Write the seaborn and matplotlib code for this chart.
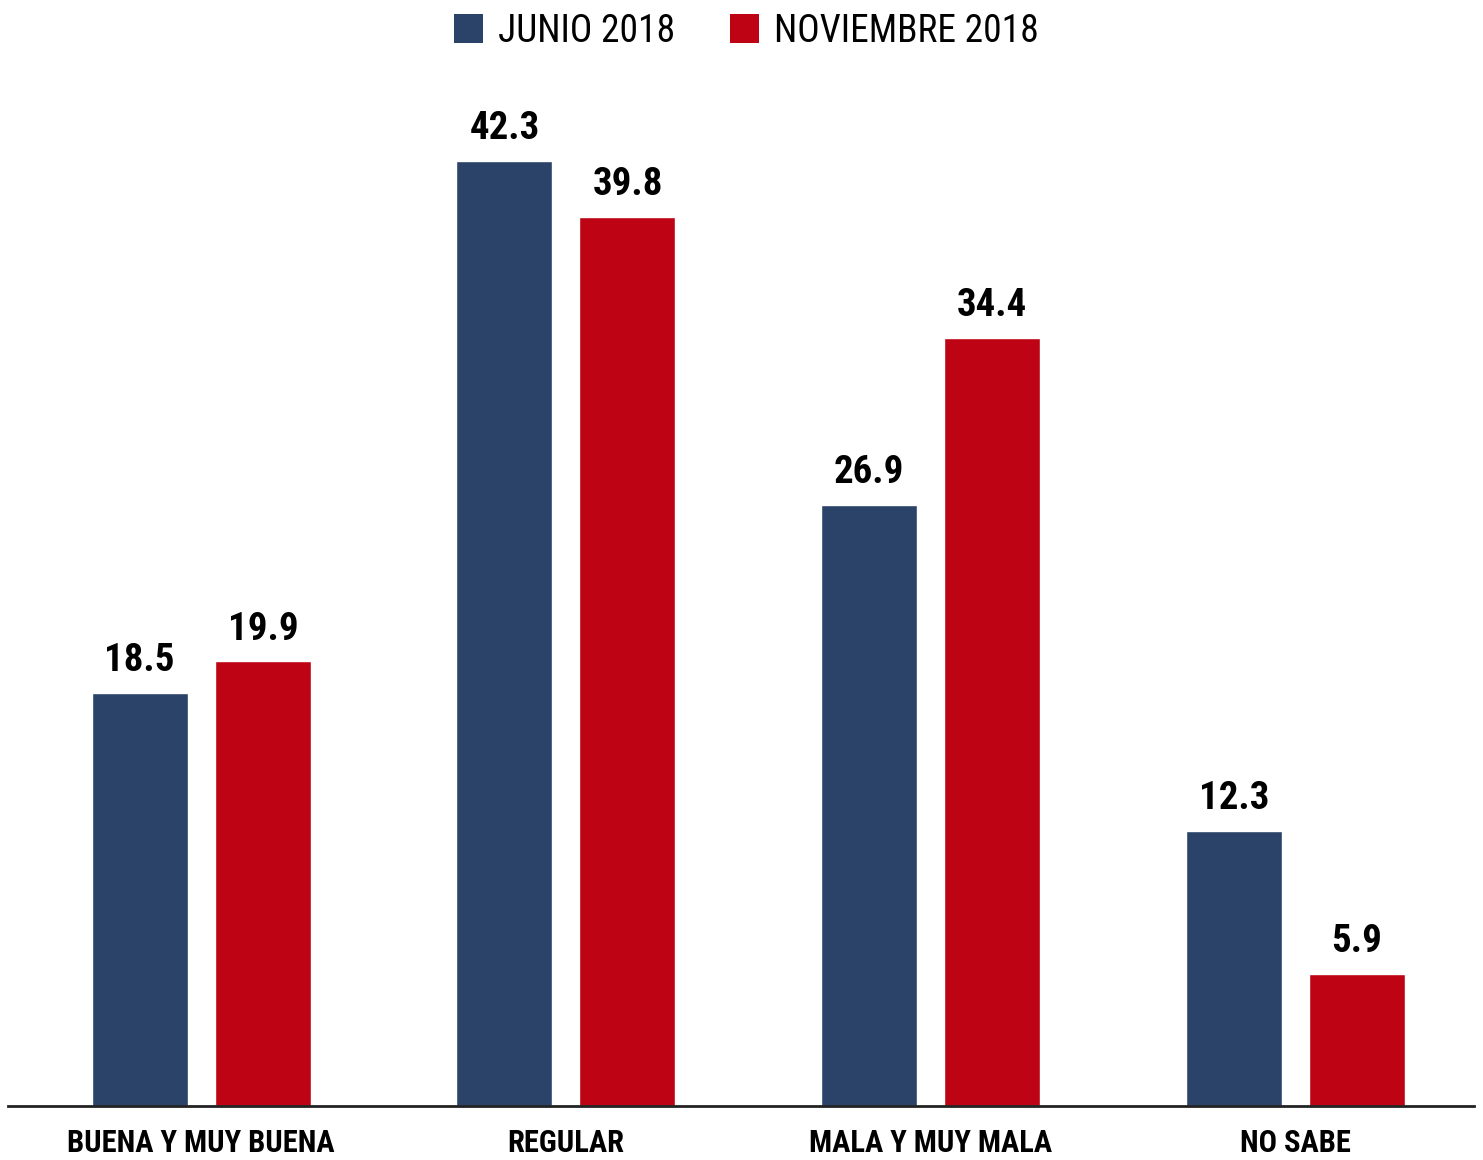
import matplotlib
matplotlib.use("Agg")
import matplotlib.pyplot as plt
from matplotlib import font_manager
from matplotlib.patches import Patch
import seaborn as sns
import pandas as pd

categories = ["BUENA Y MUY BUENA", "REGULAR", "MALA Y MUY MALA", "NO SABE"]
series_names = ["JUNIO 2018", "NOVIEMBRE 2018"]
junio = [18.5, 42.3, 26.9, 12.3]
noviembre = [19.9, 39.8, 34.4, 5.9]
colors = ["#2B4369", "#BE0414"]

df = pd.DataFrame({
    "cat": categories * 2,
    "serie": [series_names[0]] * 4 + [series_names[1]] * 4,
    "val": junio + noviembre,
})

sns.set_theme(style="white")

# pick a condensed font if available
entries = font_manager.fontManager.ttflist
names = {f.name for f in entries}
fam = None
stretch = "normal"
for cand in ["Liberation Sans Narrow", "Roboto Condensed", "Open Sans Condensed",
             "Noto Sans Condensed", "DejaVu Sans Condensed", "Arial Narrow"]:
    if cand in names:
        fam = cand
        break
if fam is None:
    cond = [f for f in entries if str(f.stretch) in ("condensed", "semi-condensed", "extra-condensed")]
    pref = [f for f in cond if f.name in ("Roboto", "Noto Sans", "Open Sans", "DejaVu Sans", "Liberation Sans")]
    if pref:
        fam = pref[0].name
        stretch = "condensed"
    elif cond:
        fam = cond[0].name
        stretch = "condensed"
    else:
        fam = "DejaVu Sans"
plt.rcParams["font.family"] = [fam, "DejaVu Sans"]
plt.rcParams["font.stretch"] = stretch
plt.rcParams["text.color"] = "black"

fig = plt.figure(figsize=(14.83, 11.6), dpi=100)
ax = fig.add_axes([8 / 1483, 1 - 1106 / 1160, (1474 - 8) / 1483, (1106 - 60) / 1160])

sns.barplot(data=df, x="cat", y="val", hue="serie", order=categories,
            hue_order=series_names, palette=colors, width=0.675, gap=0.22,
            saturation=1, ax=ax, legend=False)

ax.set_xlim(-0.53, 3.49)
ax.set_ylim(0, 1046 / 22.34)
ax.set_xlabel("")
ax.set_ylabel("")
ax.set_yticks([])
for s in ["top", "right", "left"]:
    ax.spines[s].set_visible(False)
ax.spines["bottom"].set_color("#222222")
ax.spines["bottom"].set_linewidth(2)
ax.tick_params(axis="x", length=0, pad=16)
for lbl in ax.get_xticklabels():
    lbl.set_fontsize(22)
    lbl.set_fontweight("bold")
    lbl.set_color("black")

for cont in ax.containers:
    ax.bar_label(cont, fmt="%.1f", padding=10, fontsize=28, fontweight="bold", color="black")

handles = [Patch(facecolor=c, edgecolor="none") for c in colors]
leg = fig.legend(handles, series_names, loc="center",
                 bbox_to_anchor=(0.5 + 5 / 1483, 1 - 31 / 1160),
                 ncol=2, frameon=False, fontsize=27, handlelength=0.78, handleheight=0.78,
                 handletextpad=0.4, columnspacing=1.45)
for t in leg.get_texts():
    t.set_color("black")

fig.savefig("out.png", dpi=100, facecolor="white")
